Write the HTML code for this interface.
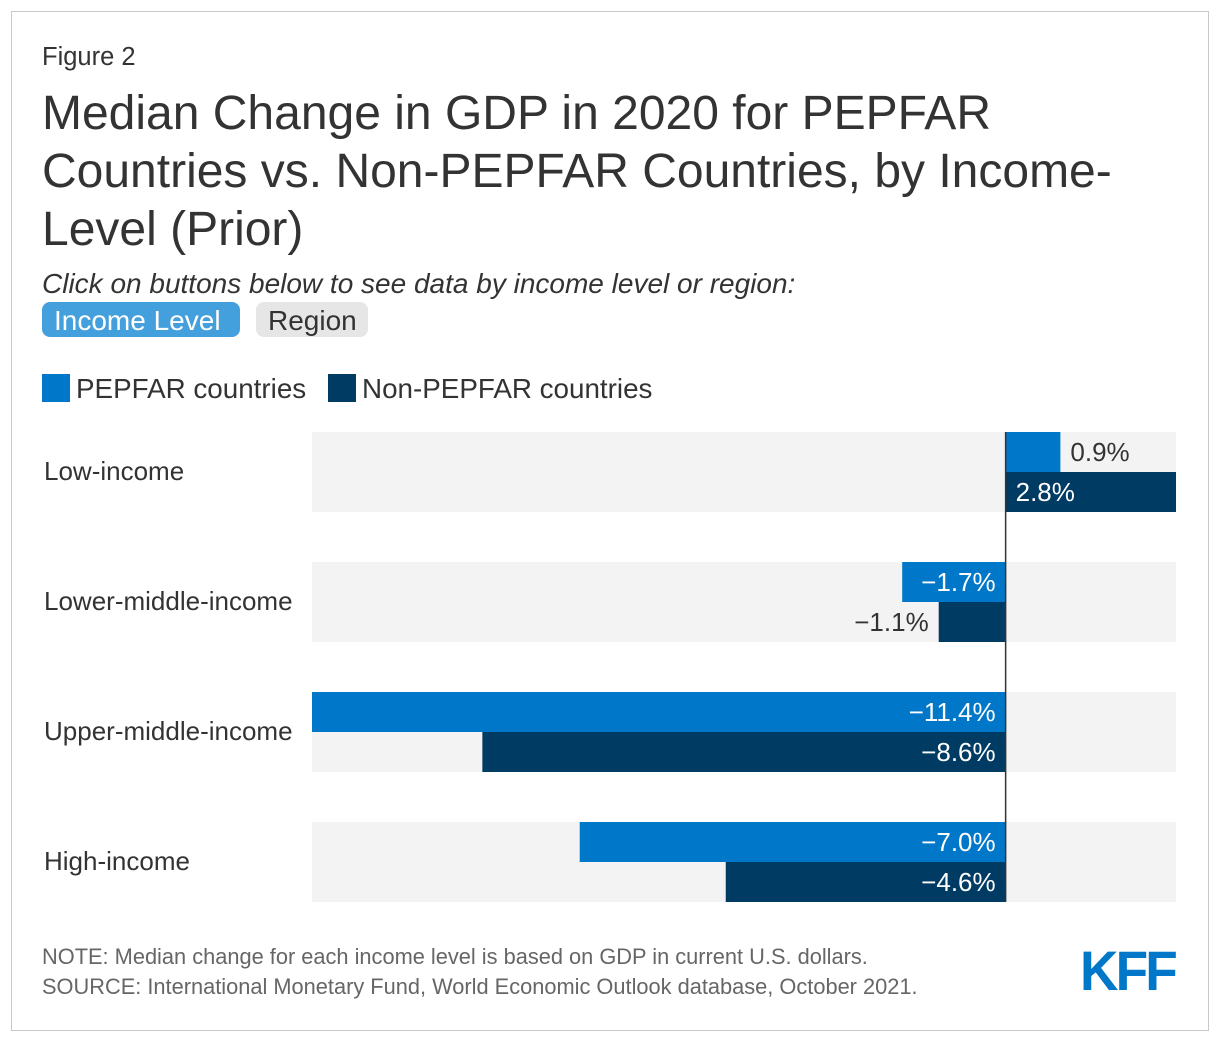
<!DOCTYPE html>
<html><head><meta charset="utf-8"><style>
body{margin:0;width:1220px;height:1042px;background:#fff;font-family:"Liberation Sans",Arial,sans-serif;position:relative;overflow:hidden}
.abs{position:absolute;white-space:nowrap}
</style></head><body>
<div class="abs" style="left:11px;top:11px;width:1196px;height:1018px;border:1px solid #c8c8c8"></div>
<div class="abs" style="left:42px;top:43px;font-size:25.5px;color:#333">Figure 2</div>
<div class="abs" style="left:42px;top:85px;font-size:48px;line-height:58px;color:#333">Median Change in GDP in 2020 for PEPFAR<br>Countries vs. Non-PEPFAR Countries, by Income-<br>Level (Prior)</div>
<div class="abs" style="left:42px;top:268px;font-size:28px;font-style:italic;color:#333">Click on buttons below to see data by income level or region:</div>
<div class="abs" style="left:42px;top:302px;width:198px;height:35px;border-radius:8px;background:#449fdd;color:#fff;font-size:28px;line-height:37px;text-indent:12px">Income Level</div>
<div class="abs" style="left:256px;top:302px;width:112px;height:35px;border-radius:8px;background:#e6e6e6;color:#333;font-size:28px;line-height:37px;text-indent:12px">Region</div>
<div class="abs" style="left:42px;top:374px;width:28px;height:28px;background:#0077c8"></div>
<div class="abs" style="left:76px;top:373px;font-size:27.8px;color:#333">PEPFAR countries</div>
<div class="abs" style="left:328px;top:374px;width:28px;height:28px;background:#003b64"></div>
<div class="abs" style="left:362px;top:373px;font-size:27.8px;color:#333">Non-PEPFAR countries</div>
<svg class="abs" style="left:0;top:0" width="1220" height="1042" id="chart"></svg>
<div class="abs" style="left:42px;top:942px;font-size:21.8px;line-height:30px;color:#666">NOTE: Median change for each income level is based on GDP in current U.S. dollars.<br>SOURCE: International Monetary Fund, World Economic Outlook database, October 2021.</div>
<div class="abs" style="left:1080px;top:938px;font-size:56px;font-weight:bold;color:#0077c8;letter-spacing:-3px;transform:scaleX(0.95);transform-origin:left">KFF</div>
<script>
const categories=["Low-income","Lower-middle-income","Upper-middle-income","High-income"];
const pepfar=[0.9,-1.7,-11.4,-7.0];
const nonPepfar=[2.8,-1.1,-8.6,-4.6];
const xMin=-11.4, xMax=2.8;
const L=312,R=1176;
const x=v=>L+(v-xMin)/(xMax-xMin)*(R-L);
const svg=document.getElementById('chart');
const NS="http://www.w3.org/2000/svg";
function mk(t,a){const e=document.createElementNS(NS,t);for(const k in a)e.setAttribute(k,a[k]);svg.appendChild(e);return e;}
const fmt=v=>(v<0?"\u2212":"")+Math.abs(v).toFixed(1)+"%";
categories.forEach((c,i)=>{
  const y0=432+i*130;
  const bg=mk('rect',{x:L,y:y0,width:R-L,height:80,fill:'#f3f3f3'});
  
  
  const lab=mk('text',{x:44,y:y0+48,'font-size':26,fill:'#333','font-family':'Liberation Sans, sans-serif'});
  lab.textContent=c;
  
  
  [[pepfar[i],'#0077c8','bar-pepfar'],[nonPepfar[i],'#003b64','bar-non-pepfar']].forEach(([v,col,nm],j)=>{
    const by=y0+j*40;
    const x0=Math.min(x(0),x(v)),w=Math.abs(x(v)-x(0));
    const b=mk('rect',{x:x0,y:by,width:w,height:40,fill:col});
    
    
    const inside=w>80;
    let tx,anchor,fill;
    if(v>=0){if(inside){tx=x(0)+10;anchor='start';fill='#fff';}else{tx=x(v)+10;anchor='start';fill='#333';}}
    else{if(inside){tx=x(0)-10;anchor='end';fill='#fff';}else{tx=x(v)-10;anchor='end';fill='#333';}}
    const t=mk('text',{x:tx,y:by+29,'text-anchor':anchor,'font-size':26,fill:fill,'font-family':'Liberation Sans, sans-serif'});
    t.textContent=fmt(v);
    
    
  });
});
const ax=mk('line',{x1:x(0),x2:x(0),y1:432,y2:902,stroke:'#333','stroke-width':1.5});


</script>
</body></html>
